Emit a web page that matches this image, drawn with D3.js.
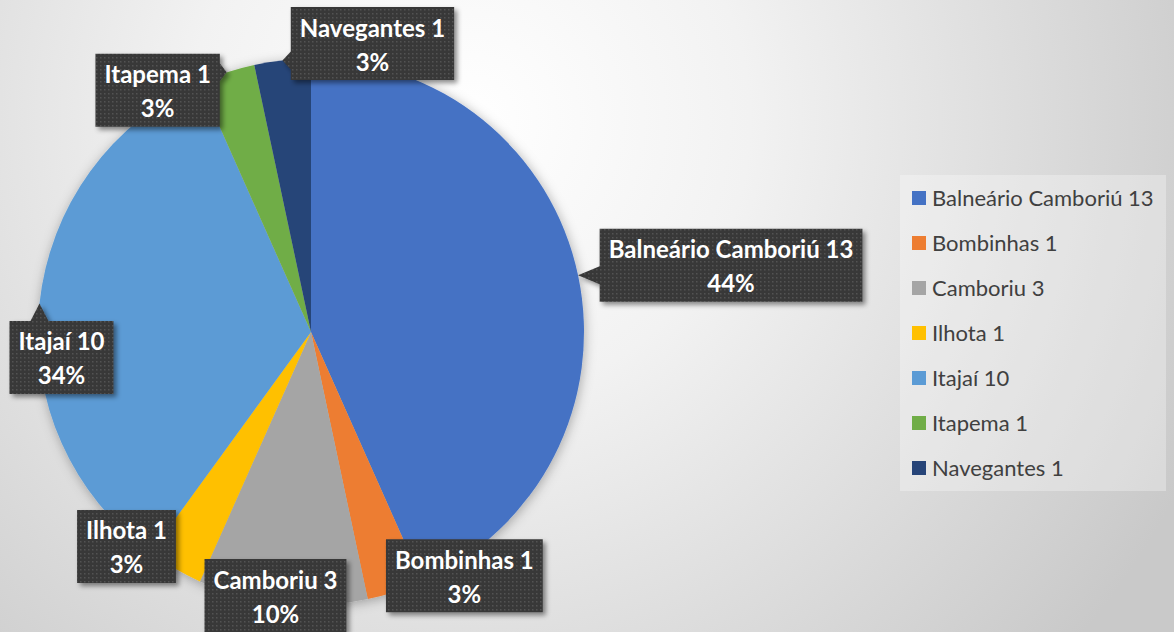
<!DOCTYPE html>
<html>
<head>
<meta charset="utf-8">
<script src="https://cdn.jsdelivr.net/npm/d3@7"></script>
<style>
  body { margin: 0; overflow: hidden; }
</style>
</head>
<body>
<div id="chart"></div>
<script>
// data
const cities = ["Balneário Camboriú", "Bombinhas", "Camboriu", "Ilhota", "Itajaí", "Itapema", "Navegantes"];
const counts = [13, 1, 3, 1, 10, 1, 1];
const percents = [44, 3, 10, 3, 34, 3, 3];
const colors = ["#4472C4", "#ED7D31", "#A5A5A5", "#FFC000", "#5B9BD5", "#70AD47", "#264478"];
// where each callout box sits, relative to the slice's outer mid point
const labelNudge = [[153, -10], [69, -16], [-7, -8], [-48, -22], [22, 54], [-69, 18], [90, -17]];

const width = 1174, height = 632;
const cx = 311, cy = 332, radius = 273;

const svg = d3.select("#chart")
    .append("svg")
    .attr("width", width)
    .attr("height", height)
    .style("font-family", "Lato, 'Open Sans', sans-serif");

const defs = svg.append("defs");

//background gradient
const bg = defs.append("radialGradient")
    .attr("id", "bg")
    .attr("gradientUnits", "userSpaceOnUse")
    .attr("cx", 470).attr("cy", 120).attr("r", 800);
bg.append("stop").attr("offset", 0).attr("stop-color", "#ffffff");
bg.append("stop").attr("offset", 0.35).attr("stop-color", "#f2f2f2");
bg.append("stop").attr("offset", 1).attr("stop-color", "#c9c9c9");

//shadows
const pieShadow = defs.append("filter").attr("id", "pieShadow")
    .attr("x", "-20%").attr("y", "-20%").attr("width", "140%").attr("height", "140%");
pieShadow.append("feDropShadow")
    .attr("dx", 1).attr("dy", 2).attr("stdDeviation", 6)
    .attr("flood-color", "#000").attr("flood-opacity", 0.3);

const boxShadow = defs.append("filter").attr("id", "boxShadow")
    .attr("x", "-20%").attr("y", "-30%").attr("width", "140%").attr("height", "160%");
boxShadow.append("feDropShadow")
    .attr("dx", 3).attr("dy", 3).attr("stdDeviation", 2.5)
    .attr("flood-color", "#000").attr("flood-opacity", 0.45);

//dotted fill for the callouts
const dots = defs.append("pattern")
    .attr("id", "dots")
    .attr("patternUnits", "userSpaceOnUse")
    .attr("width", 4).attr("height", 4);
dots.append("rect").attr("width", 4).attr("height", 4).attr("fill", "#383838");
dots.append("rect").attr("x", 1).attr("y", 1).attr("width", 1.5).attr("height", 1.5).attr("fill", "#525252");

svg.append("rect")
    .attr("width", width)
    .attr("height", height)
    .attr("fill", "url(#bg)");

//pie, sized by the counts
const pie = d3.pie()
    .sort(null)
    .value(i => counts[i]);
const arcs = pie(d3.range(cities.length));

const arc = d3.arc()
    .innerRadius(0)
    .outerRadius(radius);

const pieG = svg.append("g")
    .attr("transform", `translate(${cx},${cy})`);

pieG.append("g")
    .attr("filter", "url(#pieShadow)")
    .selectAll("path")
    .data(arcs)
    .enter()
    .append("path")
    .attr("d", arc)
    .attr("fill", d => colors[d.data]);

//callout labels
function callout(x0, y0, x1, y1, ax, ay) {
    const h = 9;
    const clamp = (v, a, b) => Math.max(a, Math.min(b, v));
    let side = null;
    if (ax < x0) side = "left";
    else if (ax > x1) side = "right";
    else if (ay < y0) side = "top";
    else if (ay > y1) side = "bottom";
    let p = `M${x0},${y0}`;
    if (side === "top") {
        const m = clamp(ax, x0 + h, x1 - h);
        p += `L${m - h},${y0}L${ax},${ay}L${m + h},${y0}`;
    }
    p += `L${x1},${y0}`;
    if (side === "right") {
        const m = clamp(ay, y0 + h, y1 - h);
        p += `L${x1},${m - h}L${ax},${ay}L${x1},${m + h}`;
    }
    p += `L${x1},${y1}`;
    if (side === "bottom") {
        const m = clamp(ax, x0 + h, x1 - h);
        p += `L${m + h},${y1}L${ax},${ay}L${m - h},${y1}`;
    }
    p += `L${x0},${y1}`;
    if (side === "left") {
        const m = clamp(ay, y0 + h, y1 - h);
        p += `L${x0},${m + h}L${ax},${ay}L${x0},${m - h}`;
    }
    return p + "Z";
}

const labels = pieG.append("g");

arcs.forEach(d => {
    const i = d.data;
    const mid = (d.startAngle + d.endAngle) / 2;
    const ax = radius * Math.sin(mid);
    const ay = -radius * Math.cos(mid);
    const bx = ax + labelNudge[i][0];
    const by = ay + labelNudge[i][1];

    const g = labels.append("g");
    const path = g.append("path")
        .attr("fill", "url(#dots)")
        .attr("filter", "url(#boxShadow)");

    const txt = g.append("text")
        .attr("text-anchor", "middle")
        .attr("font-size", "24px")
        .attr("font-weight", "bold")
        .attr("fill", "#ffffff");
    txt.append("tspan")
        .attr("x", bx)
        .attr("y", by - 7)
        .text(`${cities[i]} ${counts[i]}`);
    txt.append("tspan")
        .attr("x", bx)
        .attr("y", by + 27)
        .text(`${percents[i]}%`);

    const w = txt.node().getBBox().width + 18;
    const bh = 73;
    path.attr("d", callout(bx - w / 2, by - bh / 2, bx + w / 2, by + bh / 2, ax, ay));
});

//legend
const legend = svg.append("g")
    .attr("transform", "translate(900,175)");

legend.append("rect")
    .attr("width", 266)
    .attr("height", 316)
    .attr("fill", "#ffffff")
    .attr("fill-opacity", 0.3);

const legendY = d3.scalePoint()
    .domain(d3.range(cities.length))
    .range([23, 293]);

const items = legend.selectAll(".item")
    .data(d3.range(cities.length))
    .enter()
    .append("g")
    .attr("transform", i => `translate(12,${legendY(i)})`);

items.append("rect")
    .attr("y", -7)
    .attr("width", 14)
    .attr("height", 14)
    .attr("fill", i => colors[i]);

items.append("text")
    .attr("x", 20)
    .attr("y", 7.5)
    .attr("font-size", "22px")
    .attr("fill", "#404040")
    .text(i => `${cities[i]} ${counts[i]}`);
</script>
</body>
</html>
